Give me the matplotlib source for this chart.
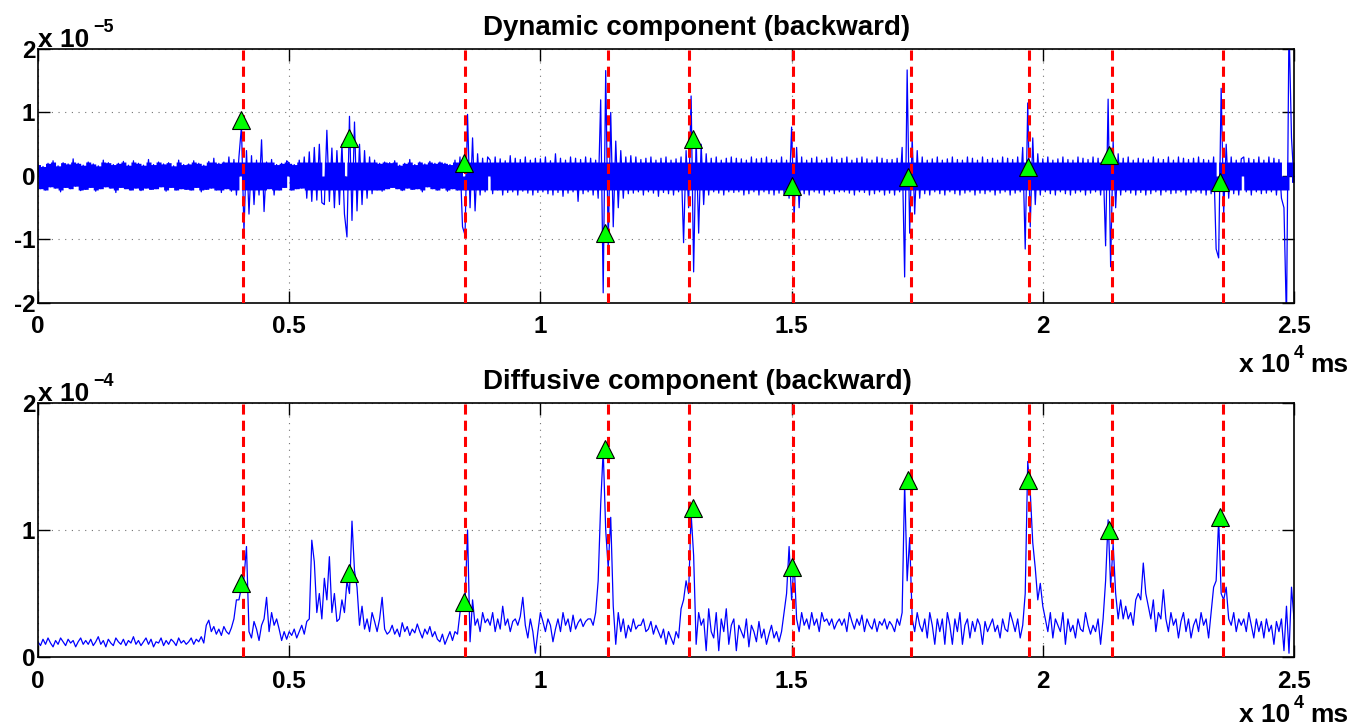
import numpy as np
import matplotlib
matplotlib.use('Agg')
import matplotlib.pyplot as plt
from matplotlib.transforms import offset_copy

plt.rcParams['font.family'] = ['Liberation Sans', 'DejaVu Sans']
plt.rcParams['font.weight'] = 'bold'
plt.rcParams['axes.unicode_minus'] = False

# time axis: one sample every 50 ms, 0 .. 25000 ms
t_ms = np.arange(0, 25001, 50)

# dynamic component, units of 1e-5 (one row = 1000 ms)
dynamic = [
    0.18, -0.20, 0.15, -0.22, 0.20, -0.17, 0.24, -0.19, 0.16, -0.25, 0.21, -0.18, 0.19, -0.20, 0.27, -0.16, 0.20, -0.23, 0.17, -0.21,
    0.22, -0.18, 0.19, -0.24, 0.16, -0.20, 0.25, -0.17, 0.21, -0.19, 0.18, -0.26, 0.20, -0.18, 0.23, -0.20, 0.17, -0.22, 0.24, -0.19,
    0.20, -0.23, 0.17, -0.19, 0.26, -0.21, 0.18, -0.20, 0.22, -0.17, 0.19, -0.24, 0.21, -0.18, 0.16, -0.22, 0.25, -0.20, 0.18, -0.21,
    0.19, -0.22, 0.24, -0.18, 0.20, -0.25, 0.17, -0.21, 0.23, -0.19, 0.28, -0.22, 0.20, -0.26, 0.22, -0.20, 0.30, -0.24, 0.26, -0.30,
    0.30, 0.78, -0.88, 0.40, -0.60, 0.32, -0.45, 0.25, -0.30, 0.57, -0.56, 0.22, -0.20, 0.26, -0.30, 0.18, -0.22, 0.20, -0.18, 0.24,
    0.20, -0.22, 0.18, -0.20, 0.25, -0.19, 0.30, -0.35, 0.38, -0.40, 0.45, -0.38, 0.50, -0.42, -0.45, 0.72, -0.40, 0.44, -0.50, 0.40,
    -0.45, 0.50, -0.60, -0.96, 0.94, -0.70, 0.85, -0.55, 0.50, -0.45, 0.40, -0.35, 0.30, -0.28, 0.25, -0.22, 0.20, -0.24, 0.22, -0.20,
    0.21, -0.18, 0.24, -0.20, 0.17, -0.23, 0.20, -0.19, 0.26, -0.21, 0.18, -0.20, 0.22, -0.25, 0.19, -0.17, 0.23, -0.20, 0.20, -0.22,
    0.22, -0.19, 0.20, -0.24, 0.18, -0.20, 0.25, -0.22, 0.30, -0.80, -0.93, 0.97, -0.50, 0.60, -0.55, 0.35, -0.30, 0.28, -0.25, 0.30,
    0.25, -0.28, 0.30, -0.22, 0.27, -0.30, 0.24, -0.26, 0.32, -0.25, 0.28, -0.30, 0.26, -0.24, 0.30, -0.27, 0.25, -0.30, 0.28, -0.26,
    0.27, -0.25, 0.30, -0.28, 0.24, -0.30, 0.35, -0.26, 0.28, -0.32, 0.25, -0.27, 0.30, -0.25, 0.28, -0.40, 0.26, -0.28, 0.30, -0.25,
    0.28, -0.30, 0.25, -0.35, 1.20, -1.84, 1.66, -1.10, 1.00, -0.80, 0.55, -0.50, 0.40, -0.35, 0.30, -0.28, 0.32, -0.27, 0.30, -0.25,
    0.26, -0.30, 0.28, -0.25, 0.30, -0.27, 0.25, -0.32, 0.28, -0.26, 0.30, -0.28, 0.25, -0.30, 0.27, -0.25, 0.30, -1.05, 0.40, -0.50,
    1.26, -1.51, 0.60, -0.90, 0.50, -0.45, 0.35, -0.30, 0.28, -0.25, 0.30, -0.27, 0.25, -0.30, 0.28, -0.25, 0.30, -0.26, 0.28, -0.25,
    0.27, -0.30, 0.25, -0.28, 0.30, -0.25, 0.27, -0.30, 0.28, -0.25, 0.30, -0.28, 0.26, -0.30, 0.25, -0.27, 0.30, -0.28, 0.25, -0.35,
    0.77, -0.66, 0.45, -0.50, 0.30, -0.28, 0.25, -0.30, 0.28, -0.25, 0.30, -0.27, 0.25, -0.30, 0.28, -0.25, 0.30, -0.28, 0.26, -0.25,
    0.28, -0.25, 0.30, -0.27, 0.25, -0.30, 0.28, -0.25, 0.30, -0.26, 0.27, -0.30, 0.25, -0.28, 0.30, -0.25, 0.28, -0.30, 0.26, -0.27,
    0.26, -0.30, 0.28, -0.25, 0.45, -1.59, 1.67, -0.90, 0.60, -0.60, 0.40, -0.35, 0.30, -0.28, 0.25, -0.30, 0.27, -0.25, 0.30, -0.28,
    0.25, -0.30, 0.27, -0.25, 0.30, -0.28, 0.26, -0.30, 0.25, -0.27, 0.30, -0.25, 0.28, -0.30, 0.25, -0.27, 0.30, -0.28, 0.26, -0.25,
    0.28, -0.30, 0.25, -0.27, 0.30, -0.25, 0.28, -0.30, 0.26, -0.27, 0.30, -0.25, 0.45, -1.15, 1.15, -0.80, 0.60, -0.45, 0.35, -0.30,
    0.27, -0.25, 0.30, -0.28, 0.25, -0.30, 0.27, -0.25, 0.30, -0.28, 0.26, -0.30, 0.25, -0.27, 0.30, -0.25, 0.28, -0.30, 0.26, -0.27,
    0.30, -0.25, 0.28, -0.30, 0.26, -1.10, 1.21, -1.43, 0.55, -0.50, 0.35, -0.30, 0.28, -0.25, 0.30, -0.27, 0.25, -0.30, 0.28, -0.26,
    0.27, -0.30, 0.25, -0.28, 0.30, -0.25, 0.27, -0.30, 0.26, -0.25, 0.30, -0.28, 0.25, -0.27, 0.30, -0.25, 0.28, -0.30, 0.26, -0.27,
    0.28, -0.25, 0.30, -0.27, 0.26, -0.30, 0.25, -0.28, 0.30, -1.15, -1.29, 1.38, -0.60, 0.50, -0.35, 0.30, -0.28, 0.25, -0.30, 0.27,
    0.30, -0.25, 0.28, -0.30, 0.26, -0.25, 0.30, -0.28, 0.25, -0.27, 0.30, -0.25, 0.28, -0.30, 0.26, -0.35, -0.50, -2.30, 2.40, 0.60,
    -0.10,
]

# diffusive component, units of 1e-4 (one row = 1000 ms)
diffusive = [
    0.12, 0.09, 0.14, 0.10, 0.15, 0.11, 0.08, 0.13, 0.10, 0.15, 0.12, 0.09, 0.14, 0.11, 0.13, 0.08, 0.12, 0.15, 0.10, 0.13,
    0.10, 0.14, 0.09, 0.12, 0.16, 0.10, 0.13, 0.08, 0.14, 0.11, 0.09, 0.15, 0.12, 0.10, 0.14, 0.09, 0.13, 0.11, 0.16, 0.10,
    0.13, 0.09, 0.12, 0.15, 0.10, 0.14, 0.08, 0.12, 0.11, 0.15, 0.09, 0.13, 0.10, 0.14, 0.12, 0.09, 0.15, 0.11, 0.13, 0.10,
    0.12, 0.15, 0.10, 0.14, 0.12, 0.16, 0.11, 0.25, 0.29, 0.20, 0.24, 0.18, 0.22, 0.17, 0.24, 0.20, 0.18, 0.23, 0.30, 0.45,
    0.45, 0.55, 0.62, 0.87, 0.20, 0.15, 0.28, 0.22, 0.13, 0.25, 0.30, 0.47, 0.20, 0.35, 0.25, 0.30, 0.22, 0.13, 0.20, 0.14,
    0.20, 0.17, 0.22, 0.15, 0.20, 0.25, 0.18, 0.28, 0.30, 0.92, 0.75, 0.35, 0.50, 0.30, 0.62, 0.45, 0.79, 0.35, 0.50, 0.28,
    0.30, 0.45, 0.35, 0.60, 0.50, 1.07, 0.68, 0.55, 0.25, 0.40, 0.22, 0.30, 0.20, 0.35, 0.28, 0.20, 0.30, 0.47, 0.22, 0.18,
    0.20, 0.25, 0.18, 0.22, 0.16, 0.27, 0.20, 0.24, 0.17, 0.22, 0.19, 0.26, 0.20, 0.15, 0.22, 0.18, 0.24, 0.16, 0.20, 0.14,
    0.12, 0.18, 0.10, 0.15, 0.20, 0.13, 0.20, 0.18, 0.35, 0.45, 0.42, 1.00, 0.12, 0.45, 0.25, 0.30, 0.20, 0.35, 0.27, 0.30,
    0.25, 0.35, 0.20, 0.30, 0.22, 0.40, 0.25, 0.30, 0.20, 0.28, 0.30, 0.25, 0.32, 0.47, 0.25, 0.15, 0.30, 0.20, 0.03, 0.20,
    0.35, 0.28, 0.20, 0.30, 0.25, 0.12, 0.22, 0.30, 0.20, 0.35, 0.25, 0.30, 0.20, 0.33, 0.22, 0.27, 0.30, 0.24, 0.28, 0.30,
    0.30, 0.25, 0.35, 0.60, 1.20, 1.63, 1.00, 0.70, 1.10, 0.40, 0.10, 0.35, 0.20, 0.30, 0.15, 0.25, 0.20, 0.30, 0.22, 0.25,
    0.25, 0.30, 0.20, 0.22, 0.28, 0.18, 0.25, 0.20, 0.15, 0.22, 0.10, 0.20, 0.15, 0.10, 0.20, 0.15, 0.38, 0.45, 0.60, 0.50,
    1.13, 0.80, 0.10, 0.35, 0.25, 0.30, 0.05, 0.38, 0.20, 0.15, 0.35, 0.05, 0.30, 0.20, 0.38, 0.10, 0.25, 0.30, 0.05, 0.25,
    0.20, 0.15, 0.30, 0.08, 0.25, 0.20, 0.12, 0.28, 0.15, 0.22, 0.10, 0.18, 0.25, 0.15, 0.20, 0.12, 0.20, 0.35, 0.50, 0.87,
    0.45, 0.75, 0.30, 0.20, 0.35, 0.25, 0.30, 0.22, 0.35, 0.25, 0.30, 0.20, 0.35, 0.28, 0.30, 0.25, 0.30, 0.22, 0.27, 0.30,
    0.25, 0.30, 0.20, 0.35, 0.28, 0.22, 0.30, 0.25, 0.33, 0.20, 0.30, 0.25, 0.22, 0.30, 0.20, 0.28, 0.25, 0.30, 0.22, 0.28,
    0.25, 0.20, 0.30, 0.25, 0.35, 1.37, 0.60, 0.94, 0.30, 0.20, 0.35, 0.25, 0.20, 0.30, 0.15, 0.35, 0.25, 0.10, 0.30, 0.20,
    0.30, 0.10, 0.35, 0.25, 0.10, 0.30, 0.20, 0.35, 0.10, 0.25, 0.30, 0.15, 0.28, 0.20, 0.30, 0.25, 0.10, 0.28, 0.20, 0.25,
    0.30, 0.20, 0.25, 0.15, 0.30, 0.22, 0.20, 0.35, 0.28, 0.20, 0.30, 0.15, 0.25, 0.50, 1.54, 1.30, 0.90, 0.70, 0.45, 0.58,
    0.40, 0.30, 0.20, 0.35, 0.15, 0.30, 0.25, 0.20, 0.35, 0.10, 0.30, 0.20, 0.25, 0.15, 0.30, 0.22, 0.20, 0.35, 0.25, 0.18,
    0.25, 0.20, 0.30, 0.10, 0.30, 0.60, 1.08, 0.55, 0.89, 0.50, 0.30, 0.45, 0.30, 0.40, 0.30, 0.35, 0.25, 0.45, 0.50, 0.45,
    0.74, 0.50, 0.40, 0.30, 0.45, 0.20, 0.35, 0.30, 0.53, 0.30, 0.20, 0.35, 0.25, 0.30, 0.15, 0.28, 0.35, 0.20, 0.30, 0.15,
    0.25, 0.30, 0.20, 0.35, 0.25, 0.30, 0.15, 0.35, 0.55, 0.60, 1.08, 0.50, 0.45, 0.55, 0.30, 0.25, 0.35, 0.20, 0.30, 0.25,
    0.30, 0.20, 0.35, 0.25, 0.15, 0.30, 0.20, 0.28, 0.15, 0.30, 0.20, 0.25, 0.10, 0.28, 0.20, 0.30, 0.05, 0.40, 0.03, 0.55,
    0.30,
]

# event onsets (red dashed lines), ms
event_ms = [4090, 8500, 11350, 12960, 15020, 17380, 19730, 21380, 23580]

# detected peaks (green triangles)
peak_ms = [4050, 6200, 8480, 11290, 13035, 15010, 17320, 19705, 21320, 23525]
peak_dyn = [0.88, 0.60, 0.21, -0.89, 0.58, -0.15, -0.02, 0.14, 0.33, -0.10]
peak_dif = [0.58, 0.66, 0.43, 1.635, 1.17, 0.71, 1.39, 1.39, 1.00, 1.10]

xticks = [0, 0.5, 1, 1.5, 2, 2.5]
xticklabels = ['0', '0.5', '1', '1.5', '2', '2.5']

x = t_ms / 1e4
ev = np.array(event_ms) / 1e4
px = np.array(peak_ms) / 1e4

fig = plt.figure(figsize=(13.66, 7.28), dpi=100)
ax1 = fig.add_axes([0.0278, 0.5838, 0.9195, 0.3489])
ax2 = fig.add_axes([0.0278, 0.0975, 0.9195, 0.3489])

# the densely sampled noise band: fill the core of the span each segment covers
yd = np.asarray(dynamic)
seg_hi = np.append(np.maximum(yd[:-1], yd[1:]), yd[-1])
seg_lo = np.append(np.minimum(yd[:-1], yd[1:]), yd[-1])
ax1.fill_between(x, np.clip(seg_lo, -0.22, 0), np.clip(seg_hi, 0, 0.22),
                 step='post', color=(0, 0, 1), lw=0, zorder=2)

panels = [
    (ax1, dynamic, peak_dyn, (-2, 2), [-2, -1, 0, 1, 2], 'Dynamic component (backward)', '5', 0.489),
    (ax2, diffusive, peak_dif, (0, 2), [0, 1, 2], 'Diffusive component (backward)', '4', 0.0082),
]

for ax, y, py, ylim, yticks, title, expo, unit_y in panels:
    ax.plot(x, y, color=(0, 0, 1), lw=0.9, zorder=2)
    for e in ev:
        ax.axvline(e, color=(1, 0, 0), lw=2.2, ls=(0, (3.3, 2)), zorder=3)
    ax.plot(px, py, ls='none', marker='^', ms=13, mfc=(0, 1, 0), mec='k', mew=0.8, zorder=4)

    ax.set_xlim(0, 2.5)
    ax.set_ylim(*ylim)
    ax.set_xticks(xticks)
    ax.set_xticklabels(xticklabels)
    ax.set_yticks(yticks)
    ax.set_yticklabels([str(v) for v in yticks])
    ax.grid(True, ls=(0, (1, 5)), lw=0.8, color='k', alpha=0.55)
    ax.tick_params(direction='in', length=8.5, width=1, top=True, right=True, labelsize=17.5)
    ax.tick_params(axis='x', pad=9)
    ax.tick_params(axis='y', pad=2)
    for s in ax.spines.values():
        s.set_linewidth(1.2)
    ax.set_title(title, fontsize=20, fontweight='bold', pad=10, x=0.5247)

    # exponent label above the y axis
    ax.text(0, 1, 'x 10', transform=offset_copy(ax.transAxes, fig, x=0, y=2, units='dots'),
            ha='left', va='baseline', fontsize=19, fontweight='bold')
    ax.text(0, 1, '\u2212' + expo, transform=offset_copy(ax.transAxes, fig, x=55, y=17, units='dots'),
            ha='left', va='baseline', fontsize=13, fontweight='bold')

    # unit label under the x axis
    fig.text(1239 / 1366, unit_y, 'x 10', ha='left', va='baseline', fontsize=19, fontweight='bold')
    fig.text(1294 / 1366, unit_y + 14 / 728, '4', ha='left', va='baseline', fontsize=13, fontweight='bold')
    fig.text(1348 / 1366, unit_y, 'ms', ha='right', va='baseline', fontsize=19, fontweight='bold')

fig.savefig('out.png', dpi=100)
